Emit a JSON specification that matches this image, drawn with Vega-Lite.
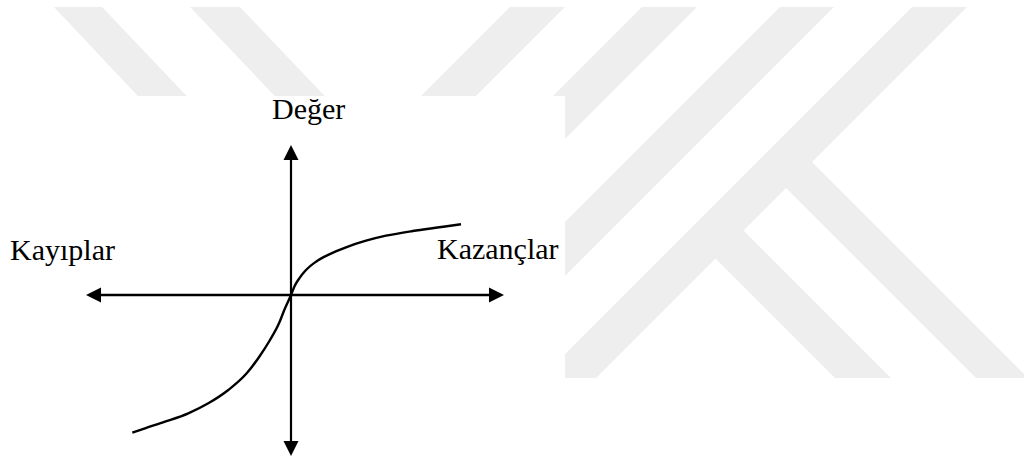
{
  "$schema": "https://vega.github.io/schema/vega-lite/v6.json",
  "width": 1024,
  "height": 461,
  "autosize": {"type": "fit", "contains": "padding"},
  "padding": 0,
  "background": "white",
  "config": {"view": {"stroke": null}},
  "datasets": {
    "watermark": [
      {"band": "L1", "y": 288, "x0": -237, "x1": -189},
      {"band": "L1", "y": 185, "x0": -140, "x1": -91},
      {"band": "L2", "y": 288, "x0": -101, "x1": -51},
      {"band": "L2", "y": 185, "x0": -3, "x1": 47},
      {"band": "A", "y": 288, "x0": 219, "x1": 274},
      {"band": "A", "y": 185, "x0": 116, "x1": 171},
      {"band": "B", "y": 288, "x0": 351, "x1": 406},
      {"band": "B", "y": -83, "x0": -20, "x1": 35},
      {"band": "C", "y": 288, "x0": 489, "x1": 543},
      {"band": "C", "y": -83, "x0": 118, "x1": 172},
      {"band": "D", "y": 288, "x0": 621, "x1": 676},
      {"band": "D", "y": -83, "x0": 250, "x1": 305},
      {"band": "K1", "y": 135, "x0": 467, "x1": 519},
      {"band": "K1", "y": -83, "x0": 685, "x1": 737},
      {"band": "K2", "y": 64, "x0": 397, "x1": 453},
      {"band": "K2", "y": -83, "x0": 544, "x1": 600}
    ],
    "axes": [
      {"name": "kazanc-kayip", "x0": -200, "x1": 206, "y0": 0, "y1": 0, "w": 2.6},
      {"name": "deger", "x0": 0, "x1": 0, "y0": -154, "y1": 144, "w": 2.2}
    ],
    "arrows": [
      {"dir": "sag", "x": 213, "y": 0, "angle": 0},
      {"dir": "sol", "x": -205, "y": 0, "angle": 180},
      {"dir": "yukari", "x": 0, "y": 150, "angle": 270},
      {"dir": "asagi", "x": 0, "y": -161, "angle": 90}
    ],
    "curve": [
      {"x": -158.7, "y": -137.7},
      {"x": -146, "y": -133.3},
      {"x": -126, "y": -126.7},
      {"x": -102.7, "y": -118.3},
      {"x": -82.7, "y": -108.3},
      {"x": -62.7, "y": -95},
      {"x": -44.3, "y": -78.3},
      {"x": -31.7, "y": -61.7},
      {"x": -21, "y": -45},
      {"x": -12, "y": -28.3},
      {"x": -6.7, "y": -15},
      {"x": 0, "y": 0},
      {"x": 3.3, "y": 8.3},
      {"x": 8.3, "y": 16.7},
      {"x": 15, "y": 25},
      {"x": 25, "y": 33.3},
      {"x": 38.3, "y": 40.7},
      {"x": 55, "y": 47.7},
      {"x": 75, "y": 54.3},
      {"x": 95, "y": 59.3},
      {"x": 121.7, "y": 64},
      {"x": 148.3, "y": 67.7},
      {"x": 170, "y": 70.7}
    ],
    "labels": [
      {"text": "Değer", "x": -19, "y": 176},
      {"text": "Kayıplar", "x": -281, "y": 35},
      {"text": "Kazançlar", "x": 146, "y": 36}
    ]
  },
  "layer": [
    {
      "data": {"name": "watermark"},
      "mark": {"type": "area", "orient": "horizontal", "color": "#eeeeee", "clip": true, "interpolate": "linear", "opacity": 1},
      "encoding": {
        "y": {"field": "y", "type": "quantitative", "scale": {"domain": [-166, 295], "nice": false, "zero": false}, "axis": null},
        "x": {"field": "x0", "type": "quantitative", "scale": {"domain": [-291, 733], "nice": false, "zero": false}, "axis": null, "stack": null},
        "x2": {"field": "x1"},
        "detail": {"field": "band", "type": "nominal"}
      }
    },
    {
      "data": {"values": [{"x0": -291, "x1": 274, "y0": -166, "y1": 199}]},
      "mark": {"type": "rect", "color": "white", "opacity": 1},
      "encoding": {
        "x": {"field": "x0", "type": "quantitative", "axis": null},
        "x2": {"field": "x1"},
        "y": {"field": "y0", "type": "quantitative", "axis": null},
        "y2": {"field": "y1"}
      }
    },
    {
      "data": {"name": "axes"},
      "mark": {"type": "rule", "color": "black", "strokeCap": "butt"},
      "encoding": {
        "x": {"field": "x0", "type": "quantitative", "axis": null},
        "x2": {"field": "x1"},
        "y": {"field": "y0", "type": "quantitative", "axis": null},
        "y2": {"field": "y1"},
        "strokeWidth": {"field": "w", "type": "quantitative", "scale": null, "legend": null}
      }
    },
    {
      "data": {"name": "arrows"},
      "mark": {"type": "point", "shape": "M -2,-1 L 0,0 L -2,1 Z", "filled": true, "color": "black", "size": 225, "opacity": 1, "strokeWidth": 0},
      "encoding": {
        "x": {"field": "x", "type": "quantitative", "axis": null},
        "y": {"field": "y", "type": "quantitative", "axis": null},
        "angle": {"field": "angle", "type": "quantitative", "scale": null, "legend": null}
      }
    },
    {
      "data": {"name": "curve"},
      "mark": {"type": "line", "color": "black", "strokeWidth": 2.4, "interpolate": "monotone"},
      "encoding": {
        "x": {"field": "x", "type": "quantitative", "axis": null},
        "y": {"field": "y", "type": "quantitative", "axis": null}
      }
    },
    {
      "data": {"name": "labels"},
      "mark": {"type": "text", "font": "Liberation Serif", "fontSize": 30, "align": "left", "baseline": "alphabetic", "color": "black"},
      "encoding": {
        "x": {"field": "x", "type": "quantitative", "axis": null},
        "y": {"field": "y", "type": "quantitative", "axis": null},
        "text": {"field": "text", "type": "nominal"}
      }
    }
  ]
}
